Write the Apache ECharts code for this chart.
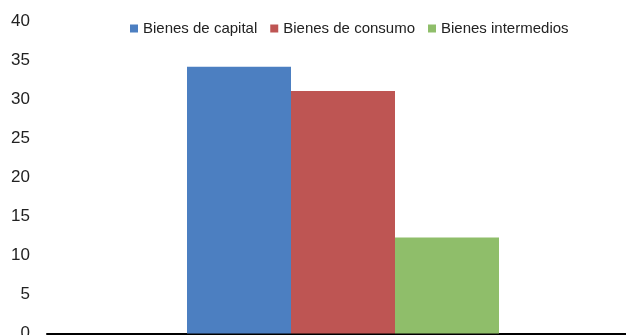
<!DOCTYPE html>
<html>
<head>
<meta charset="utf-8">
<script src="https://cdn.jsdelivr.net/npm/echarts@6/dist/echarts.min.js"></script>
<style>
  html, body { margin: 0; padding: 0; background: #fff; }
  #chart { width: 626px; height: 335px; }
</style>
</head>
<body>
<div id="chart"></div>
<script>
// Single category, three series of goods
const categories = [''];
const seriesNames = ['Bienes de capital', 'Bienes de consumo', 'Bienes intermedios'];
const capital = [34.2];
const consumo = [31.1];
const intermedios = [12.3];
const yTicks = { min: 0, max: 40, interval: 5 };

const colors = ['#4C7FC1', '#BE5553', '#8FBE6A'];
const values = [capital, consumo, intermedios];

const chart = echarts.init(document.getElementById('chart'), null, { renderer: 'canvas' });

chart.setOption({
  animation: false,
  backgroundColor: '#ffffff',
  textStyle: { fontFamily: 'Liberation Sans, Arial, sans-serif' },
  legend: {
    left: 125,
    top: 16,
    itemWidth: 8,
    itemHeight: 8,
    itemGap: 13,
    icon: 'rect',
    textStyle: { fontSize: 15, color: '#222', fontFamily: 'Liberation Sans, Arial, sans-serif' },
    data: seriesNames
  },
  grid: { left: 47, right: -13, top: 21.5, bottom: 1.5, containLabel: false, outerBoundsMode: 'none' },
  xAxis: {
    type: 'category',
    data: categories,
    axisLine: { show: true, lineStyle: { color: '#000', width: 2 } },
    axisTick: { show: false },
    axisLabel: { show: false }
  },
  yAxis: {
    type: 'value',
    min: yTicks.min,
    max: yTicks.max,
    interval: yTicks.interval,
    axisLine: { show: false },
    axisTick: { show: false },
    splitLine: { show: false },
    axisLabel: { fontSize: 17, color: '#222', margin: 17, fontFamily: 'Liberation Sans, Arial, sans-serif' }
  },
  series: seriesNames.map((name, i) => ({
    name,
    type: 'bar',
    data: values[i],
    barWidth: 104,
    barGap: '0%',
    itemStyle: { color: colors[i] }
  }))
});
</script>
</body>
</html>
